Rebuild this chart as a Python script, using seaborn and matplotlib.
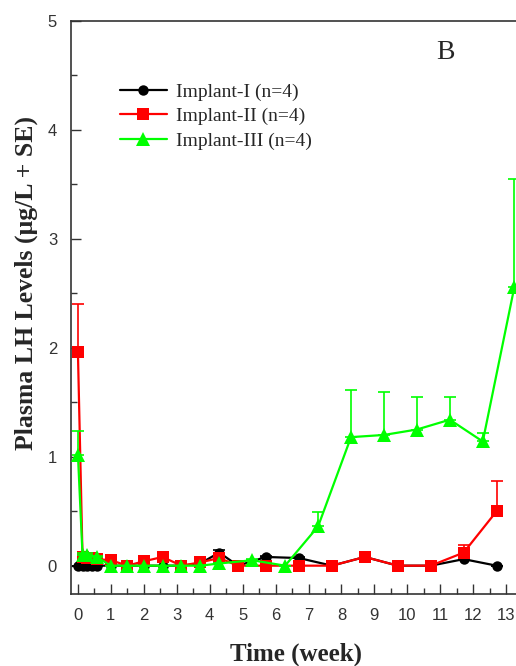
import numpy as np
import pandas as pd
import matplotlib
matplotlib.use("Agg")
import matplotlib.pyplot as plt
import seaborn as sns
from matplotlib.ticker import MultipleLocator

# ---- data (weeks, plasma LH µg/L, +SE) ----
weeks_1 = [0, 0.14, 0.29, 0.43, 0.57, 1, 1.5, 2, 2.57, 3.14, 3.71, 4.29, 4.86,
           5.71, 6.71, 7.71, 8.71, 9.71, 10.71, 11.71, 12.71]
lh_1 = [0, 0, 0, 0, 0, 0, 0, 0, 0, 0, 0.02, 0.12, 0, 0.08, 0.07, 0, 0.08, 0,
        0, 0.06, 0]
se_1 = [0, 0, 0, 0, 0, 0, 0, 0, 0, 0, 0, 0.02, 0, 0.01, 0.01, 0, 0.02, 0, 0,
        0.02, 0]

weeks_2 = [0, 0.14, 0.29, 0.43, 0.57, 1, 1.5, 2, 2.57, 3.14, 3.71, 4.29, 4.86,
           5.71, 6.71, 7.71, 8.71, 9.71, 10.71, 11.71, 12.71]
lh_2 = [1.96, 0.08, 0.07, 0.07, 0.06, 0.05, 0, 0.04, 0.08, 0, 0.03, 0.07, 0,
        0, 0, 0, 0.08, 0, 0, 0.12, 0.50]
se_2 = [0.44, 0.02, 0.01, 0.01, 0.01, 0.01, 0, 0.01, 0.02, 0, 0.01, 0.02, 0,
        0, 0, 0, 0.02, 0, 0, 0.07, 0.28]

weeks_3 = [0, 0.14, 0.29, 0.57, 1, 1.5, 2, 2.57, 3.14, 3.71, 4.29, 5.29, 6.29,
           7.29, 8.29, 9.29, 10.29, 11.29, 12.29, 13.25]
lh_3 = [1.02, 0.10, 0.10, 0.08, 0, 0, 0, 0, 0, 0, 0.02, 0.05, 0, 0.36, 1.18,
        1.20, 1.25, 1.34, 1.14, 2.56]
se_3 = [0.22, 0.02, 0.02, 0.01, 0, 0, 0, 0, 0, 0, 0, 0.01, 0, 0.13, 0.43,
        0.39, 0.30, 0.21, 0.08, 0.99]

labels = ["Implant-I (n=4)", "Implant-II (n=4)", "Implant-III (n=4)"]
colors = ["#000000", "#ff0000", "#00ff00"]
markers = ["o", "s", "^"]
msizes = [7.5, 8.5, 9.5]

sns.set_style("ticks")
plt.rcParams["font.family"] = ["Liberation Serif", "DejaVu Serif"]

fig = plt.figure(figsize=(5.16, 6.66), dpi=100)
W, H = 516, 666
left_px, right_px, top_px, bot_px = 71, 520, 21, 594
ax = fig.add_axes([left_px / W, 1 - bot_px / H,
                   (right_px - left_px) / W, (bot_px - top_px) / H])

series = [(weeks_1, lh_1, se_1), (weeks_2, lh_2, se_2), (weeks_3, lh_3, se_3)]
for i, (wk, lh, se) in enumerate(series):
    df = pd.DataFrame({"week": wk, "lh": lh})
    ax.errorbar(wk, lh, yerr=[np.zeros(len(se)), se], fmt="none",
                ecolor=colors[i], elinewidth=1.2, capsize=4.5, capthick=1.2,
                zorder=2 + i)
    sns.lineplot(data=df, x="week", y="lh", ax=ax, color=colors[i],
                 marker=markers[i], markersize=msizes[i], markeredgewidth=0,
                 linewidth=1.6, label=labels[i], zorder=3 + i,
                 estimator=None, sort=False)

ax.set_xlim(-0.21, 13.42)
ax.set_ylim(-0.26, 5)
ax.xaxis.set_major_locator(MultipleLocator(1))
ax.xaxis.set_minor_locator(MultipleLocator(0.5))
ax.yaxis.set_major_locator(MultipleLocator(1))
ax.yaxis.set_minor_locator(MultipleLocator(0.5))
ax.tick_params(which="both", direction="in", top=False, right=False,
               width=1.0, color="#333333")
ax.tick_params(which="major", length=7, pad=10)
ax.tick_params(which="minor", length=4)
for lab in ax.get_xticklabels() + ax.get_yticklabels():
    lab.set_family("Liberation Sans")
    lab.set_fontsize(12)
    lab.set_color("#333333")
for s in ["left", "bottom", "top"]:
    ax.spines[s].set_visible(True)
    ax.spines[s].set_linewidth(1.2)
    ax.spines[s].set_color("#333333")
ax.spines["right"].set_visible(False)

ax.set_xlabel("Time (week)", fontsize=18, fontweight="bold", labelpad=14)
ax.set_ylabel("Plasma LH Levels (\u03bcg/L + SE)", fontsize=18.5,
              fontweight="bold")
ax.yaxis.set_label_coords(-0.073, 0.543)

ax.text(0.835, 0.945, "B", transform=ax.transAxes, fontsize=20,
        ha="center", va="center")

leg = ax.legend(loc="upper left", bbox_to_anchor=(0.07, 0.922), frameon=False,
                fontsize=14, handlelength=2.4, labelspacing=0.35,
                handletextpad=0.5)

fig.savefig("out.png", dpi=100)
